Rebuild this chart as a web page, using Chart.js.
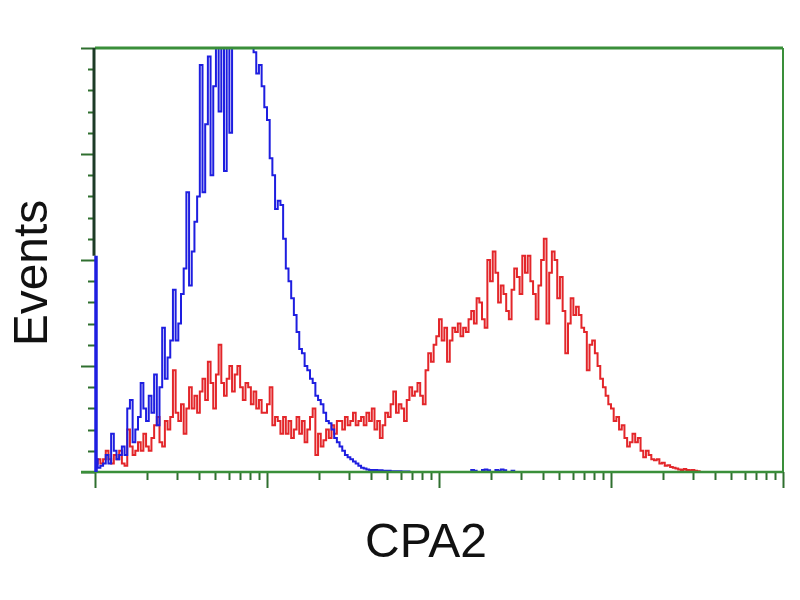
<!DOCTYPE html>
<html>
<head>
<meta charset="utf-8">
<script src="https://cdn.jsdelivr.net/npm/chart.js@4/dist/chart.umd.min.js"></script>
<style>
  html, body { margin: 0; padding: 0; background: #fff; }
  #wrap { width: 800px; height: 600px; }
</style>
</head>
<body>
<div id="wrap"><canvas id="histo"></canvas></div>
<script>
// Eventos por canal (256 canais, escala log de 4 décadas), em % da altura do eixo
const redCounts = [
  1,2,3,2,3,5,3,2,4,3,5,2,1.5,10,6,4,
  5,7,5,9,6,5,8,11,13,7,6,12,10,13,24,14,
  12,16,9,15,20,15,18,14,19,22,17,26,21,15,23,30,
  21,18,22,25,19,23,25,20,17,21,20,16,19,15,17,14,
  14,16,20,11,13,12,9,13,9,12,8,10,13,9,12,7,
  10,13,15,4,9,6,7.5,10,8,11,9,12,12,10,13,11,
  12,14,11,12,13,11,14,12,15,10,12,8,11,14,13,16,
  19,14,16,15,12,17,20,18,19,21,18,16,24,28,26,30,
  32,36,31,34,26,31,34,33,35,32,34,33,36,38,35,41,
  40,36,34,50,45,52,47,40,44,42,38,36,43,48,46,42,
  51,47,51,45,42,36,44,50,55,35,47,52,50,41,46,38,
  28,35,41,37,39,37,34,33,24,30,31,28,25,22,20,18,
  16,15,12,13,10,11,8,6,7,9,7,8,5,3.5,5,4,
  3,2.8,3,2,2.2,1.5,1.6,1.2,1,0.8,0.6,0.5,0.7,0.5,0.4,0.5,
  0.3,0.2,0,0,0,0,0,0,0,0,0,0,0,0,0,0,
  0,0,0,0,0,0,0,0,0,0,0,0,0,0,0,0
];

const blueCounts = [
  51,3,1,1.5,2,4,2,9,5,3,4,6,4,15,17,7,
  10,13,21,15,12,18,14,23,11,20,34,22,27,31,43,31,
  35,42,48,66,44,52,59,65,96,66,82,98,70,91,110,85,
  112,71,110,80,108,115,112,108,120,110,112,104,99,94,96,91,
  86,83,74,70,62,64,63,55,48,45,41,37,33,29,28,25,
  24,22,21,18,17,16,14,12,11.5,10,8,7,6,5,4,3.5,
  3,2.5,2,1.5,1,0.8,0.6,0.5,0.5,0.5,0.4,0.4,0.3,0.3,0.3,0.2,
  0.2,0.2,0.2,0.1,0.1,0.1,0,0,0,0,0,0,0,0,0,0,
  0,0,0,0,0,0,0,0,0,0,0,0,0,0.5,0.3,0,
  0,0.5,0.6,0.4,0,0,0.5,0.3,0.6,0.4,0,0,0.3,0,0,0,
  0,0,0,0,0,0,0,0,0,0,0,0,0,0,0,0,
  0,0,0,0,0,0,0,0,0,0,0,0,0,0,0,0,
  0,0,0,0,0,0,0,0,0,0,0,0,0,0,0,0,
  0,0,0,0,0,0,0,0,0,0,0,0,0,0,0,0,
  0,0,0,0,0,0,0,0,0,0,0,0,0,0,0,0,
  0,0,0,0,0,0,0,0,0,0,0,0,0,0,0,0
];

// Ticks dos eixos
const xDecades = [0, 64, 128, 192, 256];
const xMinorMultipliers = [2, 3, 4, 5, 6, 7, 8, 9];
const yMajorTicks = [0, 25, 50, 75, 100];
const yMinorTicks = [5, 10, 15, 20, 30, 35, 40, 45, 55, 60, 65, 70, 80, 85, 90, 95];

const xTitle = 'CPA2';
const yTitle = 'Events';

const toPoints = arr => arr.map((v, i) => ({ x: i, y: v }));

const blueColor = '#1e1ee0';
const redColor = '#e3262a';
const frameColor = '#3a8f3a';
const tickColor = '#2f6f2f';

// Moldura, ticks e títulos desenhados por cima dos dados
const flowFrame = {
    id: 'flowFrame',
    afterDatasetsDraw(chart) {
        const { ctx, chartArea: a, scales } = chart;
        const xs = scales.x, ys = scales.y;
        ctx.save();

        // ticks do eixo y
        ctx.strokeStyle = tickColor;
        ctx.lineWidth = 2;
        yMinorTicks.forEach(v => {
            const y = Math.round(ys.getPixelForValue(v)) + 0.5;
            ctx.beginPath(); ctx.moveTo(a.left - 7, y); ctx.lineTo(a.left, y); ctx.stroke();
        });
        yMajorTicks.forEach(v => {
            const y = Math.round(ys.getPixelForValue(v)) + 0.5;
            ctx.beginPath(); ctx.moveTo(a.left - 14, y); ctx.lineTo(a.left, y); ctx.stroke();
        });

        // ticks do eixo x (log)
        for (let d = 0; d < xDecades.length - 1; d++) {
            const span = xDecades[d + 1] - xDecades[d];
            xMinorMultipliers.forEach(m => {
                const x = Math.round(xs.getPixelForValue(xDecades[d] + Math.log10(m) * span)) + 0.5;
                ctx.beginPath(); ctx.moveTo(x, a.bottom); ctx.lineTo(x, a.bottom + 8); ctx.stroke();
            });
        }
        xDecades.forEach(v => {
            const x = Math.round(xs.getPixelForValue(v)) + 0.5;
            ctx.beginPath(); ctx.moveTo(x, a.bottom); ctx.lineTo(x, a.bottom + 16); ctx.stroke();
        });

        // moldura
        ctx.strokeStyle = frameColor;
        ctx.lineWidth = 3;
        ctx.beginPath(); ctx.moveTo(a.left, a.top); ctx.lineTo(a.right, a.top); ctx.stroke();
        ctx.lineWidth = 2;
        ctx.beginPath(); ctx.moveTo(a.right, a.top); ctx.lineTo(a.right, a.bottom); ctx.stroke();
        ctx.lineWidth = 2.5;
        ctx.beginPath(); ctx.moveTo(a.left - 14, a.bottom); ctx.lineTo(a.right, a.bottom); ctx.stroke();

        // eixo esquerdo: escuro acima do primeiro canal, azul (canal 0) abaixo
        const c0 = ys.getPixelForValue(blueCounts[0]);
        ctx.strokeStyle = '#1d3b26';
        ctx.lineWidth = 3;
        ctx.beginPath(); ctx.moveTo(a.left - 1, a.top); ctx.lineTo(a.left - 1, c0); ctx.stroke();
        ctx.strokeStyle = blueColor;
        ctx.lineWidth = 3.5;
        ctx.beginPath(); ctx.moveTo(a.left + 1, c0); ctx.lineTo(a.left + 1, a.bottom); ctx.stroke();

        // títulos
        ctx.fillStyle = '#111';
        ctx.font = '48px "Liberation Sans", Arial, sans-serif';
        ctx.textAlign = 'center';
        ctx.textBaseline = 'alphabetic';
        ctx.fillText(xTitle, 426, 557);
        ctx.translate(47, 273);
        ctx.rotate(-Math.PI / 2);
        ctx.fillText(yTitle, 0, 0);
        ctx.restore();
    }
};

new Chart(document.getElementById('histo').getContext('2d'), {
    type: 'line',
    data: {
        datasets: [
            {
                label: 'Controle',
                data: toPoints(blueCounts),
                borderColor: blueColor,
                borderWidth: 2,
                stepped: 'after',
                pointRadius: 0,
                fill: false
            },
            {
                label: 'CPA2',
                data: toPoints(redCounts),
                borderColor: redColor,
                borderWidth: 2,
                stepped: 'after',
                pointRadius: 0,
                fill: false
            }
        ]
    },
    options: {
        responsive: true,
        maintainAspectRatio: false,
        animation: false,
        layout: { padding: { left: 95, right: 17, top: 48, bottom: 128 } },
        plugins: {
            legend: { display: false },
            tooltip: { enabled: false }
        },
        scales: {
            x: { type: 'linear', min: 0, max: 256, display: false },
            y: { min: 0, max: 100, display: false }
        }
    },
    plugins: [flowFrame]
});
</script>
</body>
</html>
